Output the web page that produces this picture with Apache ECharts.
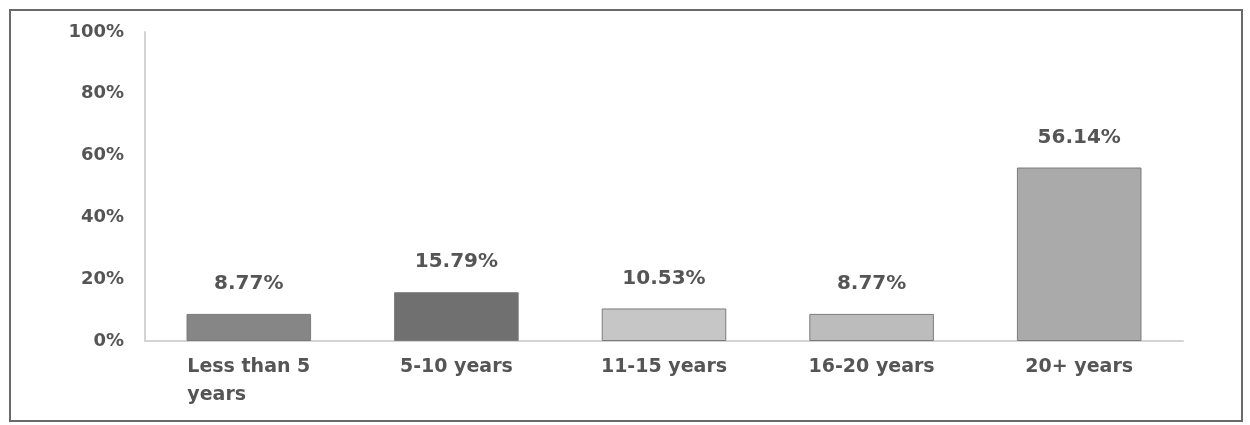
<!DOCTYPE html>
<html>
<head>
<meta charset="utf-8">
<script src="https://cdn.jsdelivr.net/npm/echarts@6/dist/echarts.min.js"></script>
<style>
  html, body { margin: 0; padding: 0; background: #fff; }
  #chart { width: 1250px; height: 425px; }
</style>
</head>
<body>
<div id="chart"></div>
<script>
// Years of experience distribution
const categories = ['Less than 5 years', '5-10 years', '11-15 years', '16-20 years', '20+ years'];
const shares = [8.77, 15.79, 10.53, 8.77, 56.14];
const barColors = ['#868686', '#707070', '#c6c6c6', '#bcbcbc', '#aaaaaa'];
const yTicks = [0, 20, 40, 60, 80, 100];

const font = 'DejaVu Sans';
const chart = echarts.init(document.getElementById('chart'), null, { renderer: 'canvas' });

chart.setOption({
  animation: false,
  backgroundColor: '#ffffff',
  graphic: [{
    type: 'rect',
    shape: { x: 10, y: 10, width: 1232, height: 411 },
    style: { fill: 'none', stroke: '#6a6a6a', lineWidth: 2 },
    silent: true
  }],
  grid: { left: 145, right: 67, top: 32, bottom: 84 },
  xAxis: {
    type: 'category',
    data: categories,
    axisLine: { show: true, lineStyle: { color: '#d4d4d4', width: 2 } },
    axisTick: { show: false },
    axisLabel: {
      interval: 0,
      margin: 12,
      color: '#555',
      fontFamily: font,
      fontWeight: 'bold',
      fontSize: 19,
      lineHeight: 28,
      formatter: function (v) {
        if (v === 'Less than 5 years') return '{l|Less than 5}\n{l|years}';
        return '{c|' + v + '}';
      },
      rich: {
        l: { align: 'left', color: '#555', fontFamily: font, fontWeight: 'bold', fontSize: 19, lineHeight: 28 },
        c: { color: '#555', fontFamily: font, fontWeight: 'bold', fontSize: 19, lineHeight: 28 }
      }
    }
  },
  yAxis: {
    type: 'value',
    min: 0,
    max: 100,
    interval: 20,
    axisLine: { show: true, lineStyle: { color: '#d4d4d4', width: 2 } },
    axisTick: { show: false },
    splitLine: { show: false },
    axisLabel: {
      margin: 21,
      color: '#555',
      fontFamily: font,
      fontWeight: 'bold',
      fontSize: 18,
      formatter: function (v) { return yTicks.indexOf(v) >= 0 ? v + '%' : ''; }
    }
  },
  series: [{
    type: 'bar',
    barWidth: '60%',
    data: shares.map((v, i) => ({
      value: v,
      itemStyle: { color: barColors[i], borderColor: '#7a7a7a', borderWidth: 1 }
    })),
    label: {
      show: true,
      position: 'top',
      distance: 20,
      color: '#555',
      fontFamily: font,
      fontWeight: 'bold',
      fontSize: 20,
      formatter: p => p.value.toFixed(2) + '%'
    }
  }]
});
</script>
</body>
</html>
